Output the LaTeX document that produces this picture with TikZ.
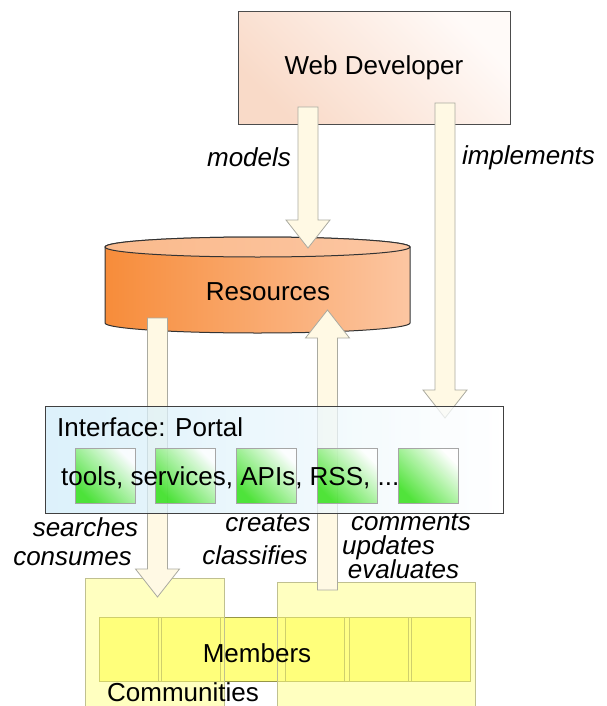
\documentclass[tikz,border=0pt]{standalone}
\usepackage{fontspec}
\setmainfont{Liberation Sans}
\usetikzlibrary{calc}

\definecolor{devPeach}{RGB}{249,218,200}
\definecolor{devLight}{RGB}{255,250,248}
\definecolor{resDark}{RGB}{247,140,58}
\definecolor{resLight}{RGB}{252,198,162}
\definecolor{resTop}{RGB}{250,186,140}
\definecolor{portalBlue}{RGB}{208,236,249}
\definecolor{toolGreen}{RGB}{40,222,10}
\definecolor{commYellow}{RGB}{255,255,140}
\definecolor{memberYellow}{RGB}{255,255,104}
\definecolor{memberEdge}{RGB}{150,150,70}
\definecolor{arrowCream}{RGB}{255,249,228}
\definecolor{arrowEdge}{RGB}{170,170,160}

% fat block arrow between two named points
\newcommand{\blockArrow}[2]{%
  \coordinate (ba-h) at ($(#2)!28pt!(#1)$);
  \draw[arrowDecorate] ($(#1)!10pt!90:(#2)$) -- ($(ba-h)!10pt!90:(#2)$)
    -- ($(ba-h)!22pt!90:(#2)$) -- (#2) -- ($(ba-h)!22pt!-90:(#2)$)
    -- ($(ba-h)!10pt!-90:(#2)$) -- ($(#1)!10pt!-90:(#2)$) -- cycle;}

\begin{document}
\begin{tikzpicture}[x=1pt,y=1pt]

  \tikzstyle{devbox}=[shape=rectangle, draw=black!70, line width=1pt, minimum width=272pt, minimum height=112pt, top color=devLight, bottom color=devPeach, shading angle=-45]

  \tikzstyle{portalbox}=[shape=rectangle, draw=black!75, line width=1pt, minimum width=458pt, minimum height=107pt, left color=portalBlue, right color=white, fill opacity=0.75]

  \tikzstyle{toolbox}=[shape=rectangle, draw=black!35, line width=1pt, minimum width=60pt, minimum height=55pt, top color=white, bottom color=toolGreen, shading angle=-45, fill opacity=0.8]

  \tikzstyle{memberbox}=[shape=rectangle, draw=memberEdge, line width=1pt, fill=memberYellow, minimum width=59pt, minimum height=64pt]

  \tikzstyle{commbox}=[shape=rectangle, draw=memberEdge!60, line width=1pt, fill=commYellow, fill opacity=0.55]

  \tikzstyle{arrowDecorate}=[draw=arrowEdge, line width=0.8pt, fill=arrowCream]

  \tikzstyle{labelDecorate}=[font=\itshape, inner sep=0pt]

  \tikzstyle{textDecorate}=[inner sep=0pt]

\fontsize{26}{30}\selectfont

\clip (0,0) rectangle (606,-706);

%% nodes or vertices

\node (wd)[devbox] at (374,-68) {Web Developer};

% resources cylinder
\path[draw=black!80, line width=1pt, left color=resDark, right color=resLight]
  (105,-247) -- (105,-323) arc[start angle=180, end angle=360, x radius=152.5pt, y radius=10pt]
  -- (410,-247) arc[start angle=0, end angle=180, x radius=152.5pt, y radius=10pt] -- cycle;
\path[draw=black!80, line width=1pt, left color=resTop, middle color=resDark!85!resTop, right color=resLight]
  (257.5,-247) ellipse [x radius=152.5pt, y radius=10pt];
\node (res)[textDecorate] at (268,-292) {Resources};

% members and communities
\node (band)[memberbox, minimum width=371pt, fill=memberYellow!85] at (284.5,-649) {};
\foreach \x [count=\i] in {128.5,191,315,378.5,441}
  \node (m\i)[memberbox] at (\x,-649) {};

\node (commLeft)[commbox, minimum width=139pt, minimum height=140pt] at (154.5,-648) {};
\node (commRight)[commbox, minimum width=198pt, minimum height=136pt] at (376,-650) {};

%% edges or lines

\coordinate (modelsFrom) at (308,-107);
\coordinate (modelsTo) at (308,-248);
\coordinate (implFrom) at (445,-103);
\coordinate (implTo) at (445,-418);
\coordinate (searchFrom) at (157.5,-318);
\coordinate (searchTo) at (157.5,-597);
\coordinate (createFrom) at (327.5,-590);
\coordinate (createTo) at (327.5,-310);

\blockArrow{modelsFrom}{modelsTo}
\blockArrow{implFrom}{implTo}
\blockArrow{searchFrom}{searchTo}
\blockArrow{createFrom}{createTo}

% portal
\node (portal)[portalbox] at (274,-459.5) {};
\foreach \i in {1,...,5}
  \node (t\i)[toolbox] at ({105+80.75*(\i-1)},-475.5) {};

%% texts

\node (portalText)[textDecorate, anchor=west] at (57,-427) {Interface: Portal};
\node (toolText)[textDecorate, anchor=west] at (61,-478) {tools, services, APIs, RSS, ...};
\node (memText)[textDecorate] at (257,-653) {Members};
\node (commText)[textDecorate, anchor=west] at (107,-692) {Communities};

\node (lModels)[labelDecorate] at (249,-157) {models};
\node (lImpl)[labelDecorate] at (528.5,-158) {implements};
\node (lSearch)[labelDecorate] at (85.5,-527) {searches};
\node (lConsume)[labelDecorate] at (72.5,-559) {consumes};
\node (lCreate)[labelDecorate] at (268,-523) {creates};
\node (lClassify)[labelDecorate] at (255,-555) {classifies};
\node (lComment)[labelDecorate] at (411,-522) {comments};
\node (lUpdate)[labelDecorate] at (388.5,-548) {updates};
\node (lEval)[labelDecorate] at (403.5,-569) {evaluates};

\end{tikzpicture}
\end{document}
